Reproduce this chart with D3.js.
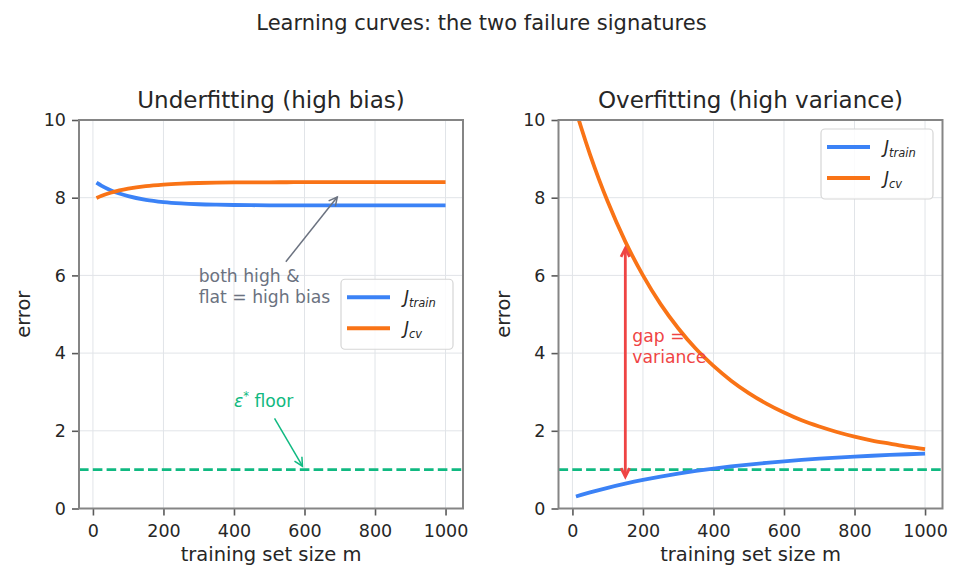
<!DOCTYPE html>
<html>
<head>
<meta charset="utf-8">
<script src="https://cdn.jsdelivr.net/npm/d3@7"></script>
<style>
  body { margin: 0; background: #fff; }
  svg { font-family: "DejaVu Sans", sans-serif; display: block; }
</style>
</head>
<body>
<div id="chart"></div>
<script>
// values
const m_values    = [10, 25, 50, 75, 100, 150, 200, 250, 300, 350, 400, 450, 500, 550, 600, 650, 700, 750, 800, 850, 900, 950, 1000];
const under_train = [8.388, 8.306, 8.194, 8.107, 8.039, 7.945, 7.888, 7.853, 7.832, 7.820, 7.812, 7.807, 7.804, 7.803, 7.802, 7.801, 7.801, 7.800, 7.800, 7.800, 7.800, 7.800, 7.800];
const under_cv    = [7.993, 8.050, 8.127, 8.187, 8.234, 8.300, 8.339, 8.363, 8.378, 8.387, 8.392, 8.395, 8.397, 8.398, 8.399, 8.399, 8.400, 8.400, 8.400, 8.400, 8.400, 8.400, 8.400];
const over_train  = [0.31, 0.35, 0.414, 0.475, 0.533, 0.640, 0.736, 0.821, 0.898, 0.967, 1.028, 1.083, 1.132, 1.176, 1.215, 1.250, 1.282, 1.310, 1.335, 1.358, 1.378, 1.396, 1.412];
const over_cv     = [10.24, 9.80, 9.11, 8.48, 7.90, 6.87, 6.00, 5.26, 4.64, 4.11, 3.67, 3.29, 2.97, 2.70, 2.47, 2.27, 2.11, 1.97, 1.85, 1.75, 1.67, 1.59, 1.53];
const x_ticks = [0, 200, 400, 600, 800, 1000];
const y_ticks = [0, 2, 4, 6, 8, 10];
const floor_value = 1.0;
const panel_titles = ["Underfitting (high bias)", "Overfitting (high variance)"];
const legend_subs = ["train", "cv"];

const __CONFIG__ = {
  main_id: "chart",
  width: 963,
  height: 582,
  top: 120,
  bottom: 508.5,
  panels: [[79, 463], [558.5, 942.5]],
  x_domain: [-39.5, 1049.5],
  y_domain: [0, 10],
  blue: "#3b82f6",
  orange: "#f97316",
  green: "#10b981",
  red: "#ef4444",
  gray: "#6b7280",
  text: "#262626",
  spine: "#858585",
  grid: "#e1e4e8"
};

function select_main(config=__CONFIG__) {
  return d3.select(`#${config.main_id}`);
}

// chevron arrow like matplotlib "->" / "<->"
function draw_arrow(g, p0, p1, color, width, both=false, shrink_a=0, shrink_b=4) {
  const dx = p1[0] - p0[0], dy = p1[1] - p0[1];
  const len = Math.hypot(dx, dy);
  const ux = dx / len, uy = dy / len;
  const a = [p0[0] + ux * shrink_a, p0[1] + uy * shrink_a];
  const b = [p1[0] - ux * shrink_b, p1[1] - uy * shrink_b];
  g.append("line")
    .attr("x1", a[0]).attr("y1", a[1])
    .attr("x2", b[0]).attr("y2", b[1])
    .attr("stroke", color).attr("stroke-width", width);
  const head = (tip, vx, vy) => {
    const hl = 8.5, hw = 4.3;
    const bx = tip[0] - vx * hl, by = tip[1] - vy * hl;
    g.append("path")
      .attr("d", `M${bx - vy * hw},${by + vx * hw}L${tip[0]},${tip[1]}L${bx + vy * hw},${by - vx * hw}`)
      .attr("fill", "none")
      .attr("stroke", color)
      .attr("stroke-width", width)
      .attr("stroke-linejoin", "miter");
  };
  head(b, ux, uy);
  if (both) head(a, -ux, -uy);
}

function multiline(g, x, y_last, lines, color, size) {
  const gap = size * 1.2;
  const t = g.append("text")
    .attr("x", x)
    .attr("fill", color)
    .attr("font-size", size);
  lines.forEach((line, i) => {
    t.append("tspan")
      .attr("x", x)
      .attr("y", y_last - (lines.length - 1 - i) * gap)
      .text(line);
  });
}

function draw_legend(g, bx, by, config=__CONFIG__) {
  const w = 112, h = 70;
  g.append("rect")
    .attr("x", bx).attr("y", by)
    .attr("width", w).attr("height", h)
    .attr("rx", 4)
    .attr("fill", "#fff").attr("fill-opacity", 0.85)
    .attr("stroke", "#d6d6d6").attr("stroke-width", 1.2);
  const colors = [config.blue, config.orange];
  legend_subs.forEach((sub, i) => {
    const ry = by + 18 + i * 31;
    g.append("line")
      .attr("x1", bx + 6).attr("x2", bx + 49)
      .attr("y1", ry).attr("y2", ry)
      .attr("stroke", colors[i]).attr("stroke-width", 4);
    const t = g.append("text")
      .attr("x", bx + 63).attr("y", ry + 6)
      .attr("fill", config.text)
      .attr("font-style", "italic");
    t.append("tspan").attr("font-size", 17).text("J");
    t.append("tspan").attr("font-size", 11.5).attr("dy", 3.5).text(sub);
  });
}

function draw_panel(svg, idx, train, cv, config=__CONFIG__) {
  const [left, right] = config.panels[idx];
  const x = d3.scaleLinear().domain(config.x_domain).range([left, right]);
  const y = d3.scaleLinear().domain(config.y_domain).range([config.bottom, config.top]);
  const g = svg.append("g");

  // grid
  g.append("g").selectAll("line.vgrid")
    .data(x_ticks).join("line")
    .attr("x1", d => x(d)).attr("x2", d => x(d))
    .attr("y1", config.top).attr("y2", config.bottom)
    .attr("stroke", config.grid).attr("stroke-width", 1);
  g.append("g").selectAll("line.hgrid")
    .data(y_ticks).join("line")
    .attr("x1", left).attr("x2", right)
    .attr("y1", d => y(d)).attr("y2", d => y(d))
    .attr("stroke", config.grid).attr("stroke-width", 1);

  // axes
  const xa = g.append("g")
    .attr("transform", `translate(0,${config.bottom})`)
    .call(d3.axisBottom(x).tickValues(x_ticks).tickSize(7).tickPadding(9).tickFormat(d3.format("d")));
  const ya = g.append("g")
    .attr("transform", `translate(${left},0)`)
    .call(d3.axisLeft(y).tickValues(y_ticks).tickSize(7).tickPadding(6).tickFormat(d3.format("d")));
  [xa, ya].forEach(a => {
    a.select(".domain").remove();
    a.selectAll(".tick line").attr("stroke", "#5a5a5a").attr("stroke-width", 1.6);
    a.selectAll(".tick text")
      .attr("fill", config.text)
      .attr("font-size", 17.5)
      .attr("font-family", "DejaVu Sans");
  });

  const clip_id = `clip${idx}`;
  svg.append("clipPath").attr("id", clip_id)
    .append("rect")
    .attr("x", left).attr("y", config.top)
    .attr("width", right - left).attr("height", config.bottom - config.top);
  const plot = g.append("g").attr("clip-path", `url(#${clip_id})`);

  // irreducible error floor
  plot.append("line")
    .attr("x1", left).attr("x2", right)
    .attr("y1", y(floor_value)).attr("y2", y(floor_value))
    .attr("stroke", config.green)
    .attr("stroke-width", 2.6)
    .attr("stroke-dasharray", "9.6,4.2");

  const line = d3.line()
    .x((d, i) => x(m_values[i]))
    .y(d => y(d))
    .curve(d3.curveMonotoneX);
  plot.append("path").datum(train)
    .attr("d", line)
    .attr("fill", "none").attr("stroke", config.blue).attr("stroke-width", 3.8);
  plot.append("path").datum(cv)
    .attr("d", line)
    .attr("fill", "none").attr("stroke", config.orange).attr("stroke-width", 3.8);

  // spines
  g.append("rect")
    .attr("x", left).attr("y", config.top)
    .attr("width", right - left).attr("height", config.bottom - config.top)
    .attr("fill", "none")
    .attr("stroke", config.spine).attr("stroke-width", 2);

  // titles and labels
  const cx = (left + right) / 2;
  g.append("text")
    .attr("x", cx).attr("y", 108.3)
    .attr("text-anchor", "middle")
    .attr("font-size", 23)
    .attr("fill", config.text)
    .text(panel_titles[idx]);
  g.append("text")
    .attr("x", cx).attr("y", 561)
    .attr("text-anchor", "middle")
    .attr("font-size", 19.5)
    .attr("fill", config.text)
    .text("training set size m");
  g.append("text")
    .attr("transform", `translate(${left - 49},${(config.top + config.bottom) / 2}) rotate(-90)`)
    .attr("text-anchor", "middle")
    .attr("font-size", 19.5)
    .attr("fill", config.text)
    .text("error");

  return {g, x, y, left, right};
}

function main(config=__CONFIG__) {
  const svg = select_main().append("svg")
    .attr("width", config.width)
    .attr("height", config.height);

  svg.append("text")
    .attr("x", 481.5).attr("y", 30)
    .attr("text-anchor", "middle")
    .attr("font-size", 21)
    .attr("fill", config.text)
    .text("Learning curves: the two failure signatures");

  // left: underfitting
  const p0 = draw_panel(svg, 0, under_train, under_cv);
  draw_arrow(p0.g, [p0.x(547), p0.y(6.35)], [p0.x(700), p0.y(8.1)], config.gray, 1.5);
  multiline(p0.g, p0.x(300), p0.y(5.3), ["both high &", "flat = high bias"], config.gray, 17.2);
  draw_arrow(p0.g, [p0.x(515), p0.y(2.32)], [p0.x(600), p0.y(floor_value)], config.green, 1.5);
  const eps = p0.g.append("text")
    .attr("x", p0.x(400)).attr("y", p0.y(2.6))
    .attr("fill", config.green)
    .attr("font-size", 17.2);
  eps.append("tspan").attr("font-style", "italic").text("ε");
  eps.append("tspan").attr("font-size", 11.5).attr("dy", -7).text("*");
  eps.append("tspan").attr("dy", 7).text(" floor");
  draw_legend(p0.g, p0.right - 122, (config.top + config.bottom) / 2 - 35);

  // right: overfitting
  const p1 = draw_panel(svg, 1, over_train, over_cv);
  draw_arrow(p1.g, [p1.x(150), p1.y(0.72)], [p1.x(150), p1.y(6.8)], config.red, 2.8, true, 4, 4);
  multiline(p1.g, p1.x(170), p1.y(3.75), ["gap =", "variance"], config.red, 17.2);
  draw_legend(p1.g, p1.right - 121.5, config.top + 9);
}

main();
</script>
</body>
</html>
